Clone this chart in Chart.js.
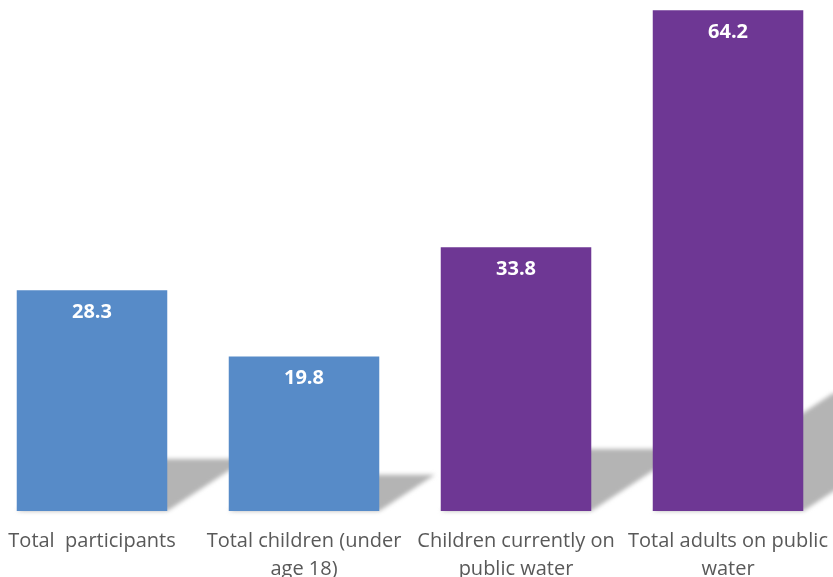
<!DOCTYPE html>
<html>
<head>
<meta charset="utf-8">
<script src="https://cdn.jsdelivr.net/npm/chart.js@4.4.1/dist/chart.umd.min.js"></script>
<style>
    html, body { margin: 0; padding: 0; background: #ffffff; overflow: hidden; }
    #wrap { position: relative; width: 833px; height: 577px; overflow: hidden; }
    #chart { position: absolute; left: -14px; top: 0; }
</style>
</head>
<body>
<div id="wrap"><canvas id="chart" width="850" height="577"></canvas></div>
<script>
const categories = [
    'Total  participants',
    ['Total children (under', 'age 18)'],
    ['Children currently on', 'public water'],
    ['Total adults on public', 'water']
];
const values = [28.3, 19.8, 33.8, 64.2];
const barColors = ['#578bc8', '#578bc8', '#6e3794', '#6e3794'];

/**
 * Draws a soft grey floor shadow behind every bar, skewed up and to the right.
 * Geometry comes from the bar elements that Chart.js laid out.
 */
const floorShadow = {
    id: 'floorShadow',
    beforeDatasetsDraw(chart) {
        const ctx = chart.ctx;
        const meta = chart.getDatasetMeta(0);
        ctx.save();
        ctx.filter = 'blur(2px)';
        ctx.fillStyle = '#b4b4b4';
        meta.data.forEach(bar => {
            const h = bar.base - bar.y;
            const left = bar.x - bar.width / 2;
            const right = bar.x + bar.width / 2;
            const dx = h * 0.36;
            const dy = h * 0.235;
            ctx.beginPath();
            ctx.moveTo(left, bar.base);
            ctx.lineTo(right, bar.base);
            ctx.lineTo(right + dx, bar.base - dy);
            ctx.lineTo(left + dx, bar.base - dy);
            ctx.closePath();
            ctx.fill();
        });
        ctx.restore();
    }
};

/**
 * Writes each value in white just inside the top of its bar.
 */
const valueLabels = {
    id: 'valueLabels',
    afterDatasetsDraw(chart) {
        const ctx = chart.ctx;
        const meta = chart.getDatasetMeta(0);
        ctx.save();
        ctx.fillStyle = '#ffffff';
        ctx.font = 'bold 20px "Open Sans", sans-serif';
        ctx.textAlign = 'center';
        ctx.textBaseline = 'middle';
        meta.data.forEach((bar, i) => {
            ctx.fillText(values[i].toFixed(1), bar.x, bar.y + 22);
        });
        ctx.restore();
    }
};

new Chart(document.getElementById('chart'), {
    type: 'bar',
    data: {
        labels: categories,
        datasets: [{
            data: values,
            backgroundColor: barColors,
            borderWidth: 0,
            barPercentage: 0.71,
            categoryPercentage: 1
        }]
    },
    options: {
        responsive: false,
        animation: false,
        layout: { padding: 0 },
        scales: {
            y: {
                display: false,
                min: 0,
                max: 65.5
            },
            x: {
                grid: { display: false },
                border: { display: false },
                afterFit(scale) { scale.height = 66; },
                ticks: {
                    color: '#595959',
                    font: { family: '"Open Sans", sans-serif', size: 20, lineHeight: 1.4 },
                    padding: 8,
                    maxRotation: 0,
                    autoSkip: false
                }
            }
        },
        plugins: {
            legend: { display: false },
            tooltip: { enabled: false }
        }
    },
    plugins: [floorShadow, valueLabels]
});
</script>
</body>
</html>
